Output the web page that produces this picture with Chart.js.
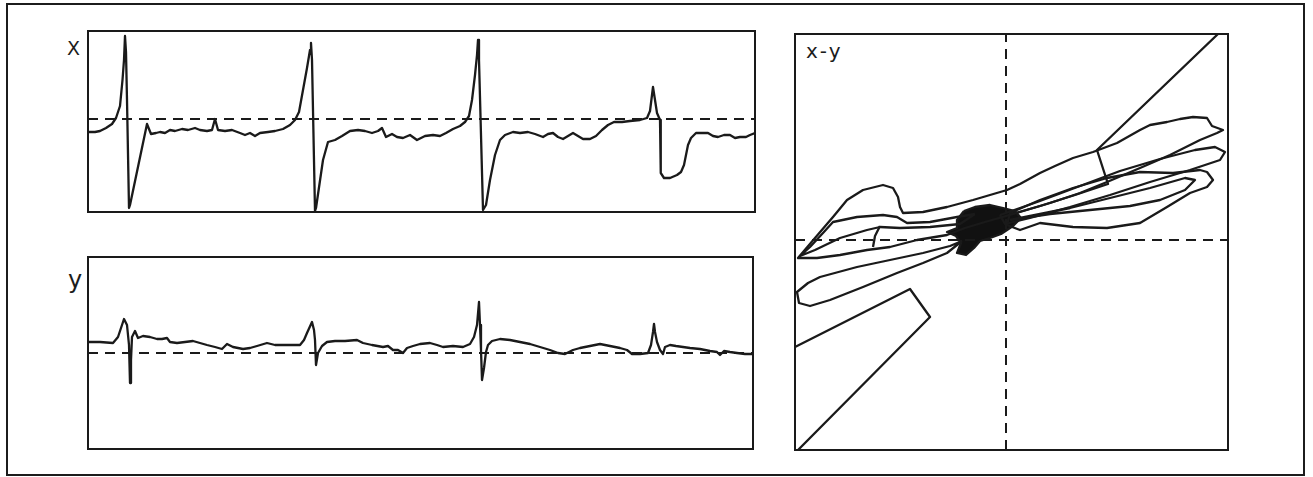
<!DOCTYPE html>
<html>
<head>
<meta charset="utf-8">
<title>X, y and x-y traces</title>
<script src="https://cdn.jsdelivr.net/npm/chart.js@4/dist/chart.umd.min.js"></script>
<style>
  html, body { margin: 0; padding: 0; background: #ffffff; }
  body { width: 1313px; height: 477px; position: relative; overflow: hidden; }
  #frame { position: absolute; left: 6px; top: 3px; width: 1299px; height: 473px;
           box-sizing: border-box; border: 2px solid #1c1c1c; }
  .panel { position: absolute; }
  .panel canvas { display: block; }
  .label { position: absolute; font-family: "DejaVu Sans", sans-serif; color: #1c1c1c;
           line-height: 1; white-space: nowrap; font-weight: normal; }
</style>
</head>
<body>
<div id="frame"></div>

<div class="label" style="left:67px; top:39px; font-size:19px;">X</div>
<div class="label" style="left:68px; top:268px; font-size:24px;">y</div>
<div class="label" style="left:806px; top:41px; font-size:20px; letter-spacing:2px;">x-y</div>

<div class="panel" id="wrapX"><canvas id="chartX"></canvas></div>
<div class="panel" id="wrapY"><canvas id="chartY"></canvas></div>
<div class="panel" id="wrapXY"><canvas id="chartXY"></canvas></div>

<script>
// ---- X lead: [time, amplitude] samples (baseline = 0) ----
const traceX = [
  [0,-1.3],[0.7,-1.3],[1.2,-1.2],[1.8,-0.9],[2.4,-0.5],[2.8,0.1],[3.2,1.3],[3.45,3.9],
  [3.6,5.9],[3.7,8.3],[3.8,6.7],[3.9,1.9],[4.1,-8.9],[4.2,-8.6],[5.9,-0.5],[6.3,-1.5],
  [6.8,-1.4],[7.2,-1.3],[7.7,-1.4],[8.2,-1.1],[8.7,-1.2],[9.4,-1.0],[10.0,-1.1],[10.7,-0.9],
  [11.2,-1.1],[11.9,-1.2],[12.4,-1.1],[12.7,0.0],[13.0,-1.1],[13.7,-1.2],[14.4,-1.1],[15.2,-1.4],
  [15.7,-1.6],[16.2,-1.4],[16.7,-1.7],[17.2,-1.4],[18.0,-1.3],[18.7,-1.2],[19.5,-1.0],[20.2,-0.6],
  [20.7,-0.1],[21.1,0.7],[21.5,2.9],[21.9,5.1],[22.2,6.9],[22.3,7.6],[22.4,5.9],[22.7,-9.2],
  [22.8,-8.9],[23.5,-4.1],[24.0,-2.3],[24.7,-2.1],[25.4,-1.7],[26.2,-1.2],[27.0,-1.1],[27.7,-1.2],
  [28.4,-1.4],[29.0,-1.2],[29.4,-0.9],[29.8,-1.8],[30.4,-1.5],[30.9,-1.8],[31.5,-1.9],[32.2,-1.6],
  [32.9,-2.1],[33.7,-1.7],[34.5,-1.6],[35.2,-1.7],[35.8,-1.4],[36.5,-1.0],[37.2,-0.7],[37.7,-0.3],
  [38.1,0.3],[38.4,1.9],[38.7,4.4],[38.9,6.4],[39.0,7.9],[39.1,5.9],[39.5,-9.1],[39.8,-8.6],
  [40.2,-6.1],[40.7,-3.6],[41.2,-2.1],[41.7,-1.6],[42.5,-1.3],[43.2,-1.4],[44.0,-1.3],[44.7,-1.5],
  [45.5,-1.8],[46.0,-1.5],[46.5,-1.4],[47.0,-1.8],[47.5,-2.0],[48.0,-1.7],[48.5,-1.4],[49.0,-1.7],
  [49.5,-2.0],[50.2,-2.0],[50.8,-1.7],[51.4,-1.1],[52.0,-0.6],[52.6,-0.3],[53.4,-0.3],[54.2,-0.2],
  [55.2,-0.1],[55.9,0.1],[56.2,0.8],[56.4,2.4],[56.5,3.2],[56.7,1.9],[56.9,0.6],[57.2,-0.1],
  [57.25,-3.1],[57.3,-5.4],[57.6,-5.9],[58.2,-5.9],[58.9,-5.6],[59.3,-5.3],[59.6,-4.6],[59.8,-3.6],
  [60.0,-2.6],[60.3,-1.9],[60.8,-1.4],[61.4,-1.4],[62.0,-1.4],[62.5,-1.7],[63.0,-1.8],[63.6,-1.6],
  [64.2,-1.6],[64.7,-1.9],[65.2,-1.8],[65.8,-1.8],[66.2,-1.6],[66.7,-1.4]
];

// ---- y lead: [time, amplitude] samples ----
const traceY = [
  [0,1.1],[1.2,1.1],[2.5,1.0],[3.0,1.6],[3.3,2.5],[3.6,3.4],[3.9,2.8],[4.1,0.8],[4.2,-3.0],
  [4.3,-0.7],[4.4,1.6],[4.7,2.2],[5.0,1.5],[5.5,1.7],[6.2,1.6],[6.9,1.4],[7.4,1.4],[7.9,1.5],
  [8.2,1.1],[8.9,1.0],[9.7,1.1],[10.5,1.2],[11.2,1.0],[11.9,0.8],[12.7,0.6],[13.4,0.4],[13.9,0.9],
  [14.5,0.6],[15.5,0.4],[16.2,0.5],[16.9,0.7],[17.9,1.0],[18.7,0.8],[19.5,0.8],[20.4,0.8],[21.2,0.8],
  [21.6,1.3],[21.9,2.0],[22.4,3.1],[22.6,2.3],[22.7,1.3],[22.8,-1.2],[23.0,0.0],[23.4,0.7],[23.9,1.1],
  [24.7,1.2],[25.7,1.2],[26.9,1.3],[27.5,1.0],[28.4,0.8],[29.5,0.6],[30.0,0.7],[30.5,0.3],[31.0,0.3],
  [31.5,0.0],[31.9,0.5],[32.5,0.7],[33.2,0.9],[34.2,1.0],[34.9,0.8],[35.5,0.6],[36.5,0.7],[37.5,0.6],
  [38.2,0.9],[38.6,1.6],[38.9,2.8],[39.1,5.1],[39.2,2.8],[39.3,0.3],[39.4,-2.7],[39.6,-1.5],[39.8,0.1],
  [40.0,0.8],[40.4,1.2],[41.2,1.4],[42.2,1.3],[43.2,1.1],[44.2,0.9],[45.2,0.6],[46.2,0.3],[47.0,0.0],
  [47.7,-0.1],[48.5,0.3],[49.2,0.5],[50.2,0.7],[51.2,0.9],[52.2,0.7],[53.2,0.5],[53.9,0.3],[54.4,-0.1],
  [55.2,-0.1],[56.0,0.0],[56.3,0.8],[56.5,2.1],[56.6,2.9],[56.7,2.1],[56.9,1.1],[57.2,0.3],[57.5,-0.1],
  [57.7,0.6],[58.2,0.8],[58.8,0.7],[59.5,0.6],[60.2,0.5],[61.2,0.4],[62.2,0.2],[62.9,0.1],[63.2,-0.2],
  [63.6,0.2],[64.2,0.1],[64.9,0.0],[65.7,-0.1],[66.4,-0.1]
];

// ---- x-y loops: [x, y] pairs ----
const loopUpper = [
  [-2.1,1.8],[1.4,2.8],[4.4,3.7],[7.4,4.7],[10.1,5.8],[13.4,7.2],[16.4,8.5],[19.4,10.0],[21.1,10.7],
  [21.7,11.0],[20.6,11.4],[20.1,12.2],[18.7,12.3],[17.4,12.1],[16.1,11.8],[14.4,11.5],[13.4,11.0],
  [11.1,9.7],[8.7,8.8],[6.7,8.2],[4.9,7.4],[3.4,6.7],[1.4,5.6],[0.1,5.0],[-1.6,4.5],[-3.3,4.0],
  [-5.9,3.3],[-8.3,2.8],[-10.3,2.7],[-10.6,3.3],[-10.8,4.3],[-11.3,5.2],[-12.3,5.5],[-14.3,5.0],
  [-15.9,4.0],[-17.3,2.3],[-19.1,0.2],[-20.8,-1.8],[-18.9,-1.8],[-16.6,-1.5],[-13.9,-1.0],
  [-11.6,-0.7],[-8.9,0.0],[-5.9,0.5],[-4.1,1.2],[-2.1,1.8]
];
const loopHump = [
  [-3.1,2.6],[-4.9,2.3],[-7.6,1.8],[-9.9,1.7],[-10.9,2.3],[-12.3,2.5],[-14.9,2.3],[-17.3,1.8],
  [-18.3,0.7],[-19.6,-0.7],[-20.6,-1.6],[-19.1,-1.0],[-16.6,0.2],[-13.9,1.0],[-12.6,1.3],
  [-10.6,1.2],[-7.6,1.3],[-4.6,1.6],[-3.1,2.6]
];
const hookHump = [[-12.6,1.4],[-13.1,0.4],[-13.3,-0.7]];
const loopLowLeft = [
  [-4.4,-0.1],[-5.9,-1.3],[-8.3,-2.3],[-10.9,-3.3],[-14.3,-4.7],[-17.6,-6.0],[-19.6,-6.6],
  [-20.7,-6.3],[-20.9,-5.2],[-19.8,-4.3],[-18.6,-3.7],[-14.9,-2.7],[-11.6,-2.0],[-8.3,-1.3],
  [-5.6,-0.6],[-4.4,-0.1]
];
const loopMidRight = [
  [-0.6,2.5],[3.4,3.9],[7.4,5.4],[11.4,6.9],[15.4,8.1],[18.9,9.0],[20.9,9.3],[21.9,8.8],[21.4,8.0],
  [18.4,7.0],[14.4,5.8],[10.4,4.5],[6.4,3.3],[2.4,2.2],[-0.1,1.6],[-0.6,2.5]
];
const loopLowRight = [
  [0.1,1.5],[1.4,1.0],[3.4,1.7],[6.7,1.3],[10.1,1.2],[13.4,1.7],[16.1,3.3],[18.4,4.7],[20.1,5.3],
  [20.7,6.0],[20.1,6.8],[19.4,7.0],[16.7,6.7],[13.4,6.8],[10.1,6.2],[6.7,5.2],[3.4,4.0],[0.4,2.7],
  [0.1,1.5]
];
const loopInner = [
  [0.4,2.0],[4.4,2.6],[8.4,3.0],[12.4,3.4],[15.4,4.0],[17.9,5.0],[18.9,6.0],[17.9,6.2],[14.4,5.2],
  [10.4,4.2],[6.4,3.2],[2.4,2.4],[0.4,2.0]
];
// pen sweeps that leave the plotting area
const sweepUp = [[21.2,20.6],[9.1,9.0],[10.2,5.6],[6.9,4.5],[3.4,3.4],[0.6,2.6]];
const sweepDown = [[-21.1,-10.7],[-9.6,-4.9],[-7.6,-7.7],[-20.8,-21.0]];
// dense knot near the origin
const knot = [
  [-4.2,2.9],[-3.1,3.3],[-1.6,3.5],[-0.3,3.2],[0.9,2.9],[1.5,2.2],[0.7,1.4],[-0.5,0.6],[-1.6,0.2],
  [-2.6,-0.1],[-3.2,-0.8],[-4.0,-1.5],[-4.9,-1.3],[-4.5,-0.3],[-5.0,0.4],[-5.9,0.8],[-4.9,1.2],
  [-4.9,2.0],[-4.2,2.9]
];

// ---- axis ranges ----
const rangeX  = { tMin: 0, tMax: 66.7, vMin: -9.3, vMax: 8.8 };
const rangeY  = { tMin: 0, tMax: 66.5, vMin: -9.6, vMax: 9.6 };
const rangeXY = { xMin: -21.1, xMax: 22.2, yMin: -21.0, yMax: 20.6 };

const INK = '#1a1a1a';
const PAD = 4;

const pts = arr => arr.map(p => ({ x: p[0], y: p[1] }));

function traceSet(arr, extra) {
  return Object.assign({
    data: pts(arr), showLine: true, pointRadius: 0, borderColor: INK,
    borderWidth: 2.3, tension: 0, fill: false, borderJoinStyle: 'round'
  }, extra || {});
}
function dashed(a, b) {
  return traceSet([a, b], { borderDash: [10, 7], borderWidth: 2, borderJoinStyle: 'miter' });
}

// draws the rectangular frame round the plot area
const frameBox = {
  id: 'frameBox',
  afterDraw(chart) {
    const a = chart.chartArea, c = chart.ctx;
    c.save();
    c.strokeStyle = INK;
    c.lineWidth = 2;
    c.strokeRect(a.left, a.top, a.right - a.left, a.bottom - a.top);
    c.restore();
  }
};

function makeChart(id, wrapId, box, datasets, xr, yr) {
  const wrap = document.getElementById(wrapId);
  const w = box.w + 2 * PAD, h = box.h + 2 * PAD;
  wrap.style.left = (box.left - PAD) + 'px';
  wrap.style.top = (box.top - PAD) + 'px';
  wrap.style.width = w + 'px';
  wrap.style.height = h + 'px';
  const cv = document.getElementById(id);
  cv.width = w; cv.height = h;
  return new Chart(cv, {
    type: 'scatter',
    data: { datasets },
    options: {
      responsive: false,
      animation: false,
      devicePixelRatio: 1,
      layout: { padding: PAD },
      plugins: { legend: { display: false }, tooltip: { enabled: false } },
      scales: {
        x: { type: 'linear', display: false, min: xr[0], max: xr[1] },
        y: { type: 'linear', display: false, min: yr[0], max: yr[1] }
      }
    },
    plugins: [frameBox]
  });
}

makeChart('chartX', 'wrapX', { left: 88, top: 31, w: 667, h: 181 }, [
  dashed([rangeX.tMin, 0], [rangeX.tMax, 0]),
  traceSet(traceX)
], [rangeX.tMin, rangeX.tMax], [rangeX.vMin, rangeX.vMax]);

makeChart('chartY', 'wrapY', { left: 88, top: 257, w: 665, h: 192 }, [
  dashed([rangeY.tMin, 0], [rangeY.tMax, 0]),
  traceSet(traceY)
], [rangeY.tMin, rangeY.tMax], [rangeY.vMin, rangeY.vMax]);

makeChart('chartXY', 'wrapXY', { left: 795, top: 34, w: 433, h: 416 }, [
  dashed([rangeXY.xMin, 0], [rangeXY.xMax, 0]),
  dashed([0, rangeXY.yMin], [0, rangeXY.yMax]),
  traceSet(loopUpper),
  traceSet(loopHump),
  traceSet(hookHump),
  traceSet(loopLowLeft),
  traceSet(loopMidRight),
  traceSet(loopLowRight),
  traceSet(loopInner),
  traceSet(sweepUp),
  traceSet(sweepDown),
  traceSet(knot, { fill: 'shape', backgroundColor: '#111111' })
], [rangeXY.xMin, rangeXY.xMax], [rangeXY.yMin, rangeXY.yMax]);
</script>
</body>
</html>
